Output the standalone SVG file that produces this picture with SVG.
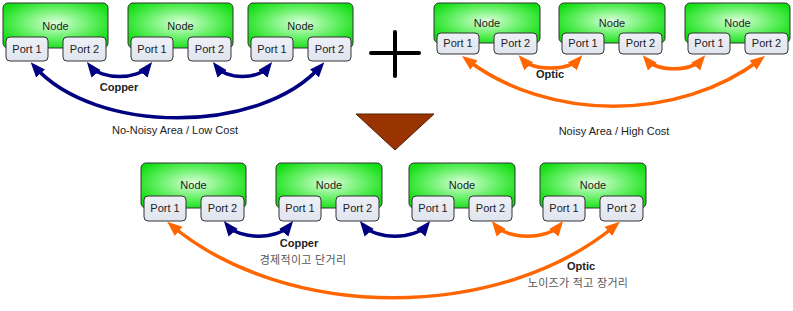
<svg xmlns="http://www.w3.org/2000/svg" width="793" height="311" viewBox="0 0 793 311">
<style>
.node{fill:url(#g);stroke:#333;stroke-width:1}
.port{fill:url(#p);stroke:#333;stroke-width:1}
text{font-family:"Liberation Sans",Arial,sans-serif;font-size:11px;fill:#222;text-anchor:middle}
.b{font-weight:bold}
.kr{font-family:"Liberation Sans","Noto Sans CJK KR",sans-serif;fill:#555;letter-spacing:0.3px}
.navy{fill:none;stroke:#000080;stroke-width:3.5;marker-start:url(#an);marker-end:url(#an)}
.orange{fill:none;stroke:#ff6600;stroke-width:3.5;marker-start:url(#ao);marker-end:url(#ao)}
</style>
<defs>
<radialGradient id="g" cx="50%" cy="45%" r="60%">
<stop offset="0" stop-color="#dcffdc"/>
<stop offset="0.55" stop-color="#66f066"/>
<stop offset="1" stop-color="#11dd11"/>
</radialGradient>
<linearGradient id="p" x1="0" y1="0" x2="0" y2="1">
<stop offset="0" stop-color="#eef0f7"/>
<stop offset="1" stop-color="#e0e4ee"/>
</linearGradient>
<marker id="an" markerUnits="userSpaceOnUse" markerWidth="16" markerHeight="13" refX="10" refY="6" orient="auto-start-reverse" viewBox="0 0 16 12">
<path d="M0,0 L15,6 L0,12 z" fill="#000080"/>
</marker>
<marker id="ao" markerUnits="userSpaceOnUse" markerWidth="16" markerHeight="13" refX="10" refY="6" orient="auto-start-reverse" viewBox="0 0 16 12">
<path d="M0,0 L15,6 L0,12 z" fill="#ff6600"/>
</marker>
</defs>

<g id="tl-node1"><rect class="node" x="3" y="3" width="105" height="45" rx="5"/><text x="55.5" y="30">Node</text>
<rect class="port" x="6" y="37" width="42" height="24" rx="4"/><text x="27" y="53">Port 1</text>
<rect class="port" x="63" y="37" width="43" height="24" rx="4"/><text x="84.5" y="53">Port 2</text></g>
<g id="tl-node2"><rect class="node" x="128" y="3" width="105" height="45" rx="5"/><text x="180.5" y="30">Node</text>
<rect class="port" x="131" y="37" width="42" height="24" rx="4"/><text x="152" y="53">Port 1</text>
<rect class="port" x="188" y="37" width="43" height="24" rx="4"/><text x="209.5" y="53">Port 2</text></g>
<g id="tl-node3"><rect class="node" x="248" y="3" width="105" height="45" rx="5"/><text x="300.5" y="30">Node</text>
<rect class="port" x="251" y="37" width="42" height="24" rx="4"/><text x="272" y="53">Port 1</text>
<rect class="port" x="308" y="37" width="43" height="24" rx="4"/><text x="329.5" y="53">Port 2</text></g>

<g id="tr-node1"><rect class="node" x="434" y="3" width="106" height="40" rx="5"/><text x="487" y="27">Node</text>
<rect class="port" x="437" y="33" width="42" height="21" rx="4"/><text x="458" y="47">Port 1</text>
<rect class="port" x="494" y="33" width="43" height="21" rx="4"/><text x="515.5" y="47">Port 2</text></g>
<g id="tr-node2"><rect class="node" x="559" y="3" width="106" height="40" rx="5"/><text x="612" y="27">Node</text>
<rect class="port" x="562" y="33" width="42" height="21" rx="4"/><text x="583" y="47">Port 1</text>
<rect class="port" x="619" y="33" width="43" height="21" rx="4"/><text x="640.5" y="47">Port 2</text></g>
<g id="tr-node3"><rect class="node" x="685" y="3" width="105" height="40" rx="5"/><text x="737.5" y="27">Node</text>
<rect class="port" x="688" y="33" width="42" height="21" rx="4"/><text x="709" y="47">Port 1</text>
<rect class="port" x="745" y="33" width="43" height="21" rx="4"/><text x="766.5" y="47">Port 2</text></g>

<g id="b-node1"><rect class="node" x="141" y="163" width="105" height="45" rx="5"/><text x="193.5" y="189">Node</text>
<rect class="port" x="144" y="196" width="42" height="25" rx="4"/><text x="165" y="212">Port 1</text>
<rect class="port" x="201" y="196" width="43" height="25" rx="4"/><text x="222.5" y="212">Port 2</text></g>
<g id="b-node2"><rect class="node" x="276" y="163" width="106" height="45" rx="5"/><text x="329" y="189">Node</text>
<rect class="port" x="279" y="196" width="42" height="25" rx="4"/><text x="300" y="212">Port 1</text>
<rect class="port" x="336" y="196" width="43" height="25" rx="4"/><text x="357.5" y="212">Port 2</text></g>
<g id="b-node3"><rect class="node" x="409" y="163" width="106" height="45" rx="5"/><text x="462" y="189">Node</text>
<rect class="port" x="412" y="196" width="42" height="25" rx="4"/><text x="433" y="212">Port 1</text>
<rect class="port" x="469" y="196" width="43" height="25" rx="4"/><text x="490.5" y="212">Port 2</text></g>
<g id="b-node4"><rect class="node" x="540" y="163" width="106" height="45" rx="5"/><text x="593" y="189">Node</text>
<rect class="port" x="543" y="196" width="42" height="25" rx="4"/><text x="564" y="212">Port 1</text>
<rect class="port" x="600" y="196" width="43" height="25" rx="4"/><text x="621.5" y="212">Port 2</text></g>

<g id="connectors">
<path class="navy" d="M90,66 C101,80 138,80 149,66"/>
<path class="navy" d="M216,66 C227,80 258,80 269,66"/>
<path class="navy" d="M34,66 C95,135 260,135 321,66"/>
<path class="orange" d="M522,59 C533,71 568,71 579,59"/>
<path class="orange" d="M646,59 C657,72 691,72 702,59"/>
<path class="orange" d="M466,59 C548,122 679,122 761,59"/>
<path class="navy" d="M227,225 C239,240 278,240 290,225"/>
<path class="navy" d="M363,225 C375,240 415,240 427,225"/>
<path class="orange" d="M495,225 C507,240 548,240 560,225"/>
<path class="orange" d="M171,225 C287,322 500,322 616,225"/>
</g>

<g id="plus" stroke="#000" stroke-width="4" stroke-linecap="round">
<line x1="371" y1="53" x2="419" y2="53"/>
<line x1="395" y1="32" x2="395" y2="76"/>
</g>
<polygon id="arrow-down" points="356,114 434,114 395,150" fill="#993300" stroke="#552200" stroke-width="1"/>

<g id="labels">
<text class="b" x="119" y="91">Copper</text>
<text class="b" x="550" y="78">Optic</text>
<text x="175" y="134">No-Noisy Area / Low Cost</text>
<text x="614" y="135">Noisy Area / High Cost</text>
<text class="b" x="299" y="247">Copper</text>
<text class="kr" x="303" y="264">경제적이고 단거리</text>
<text class="b" x="581" y="270">Optic</text>
<text class="kr" x="578" y="287">노이즈가 적고 장거리</text>
</g>
</svg>
